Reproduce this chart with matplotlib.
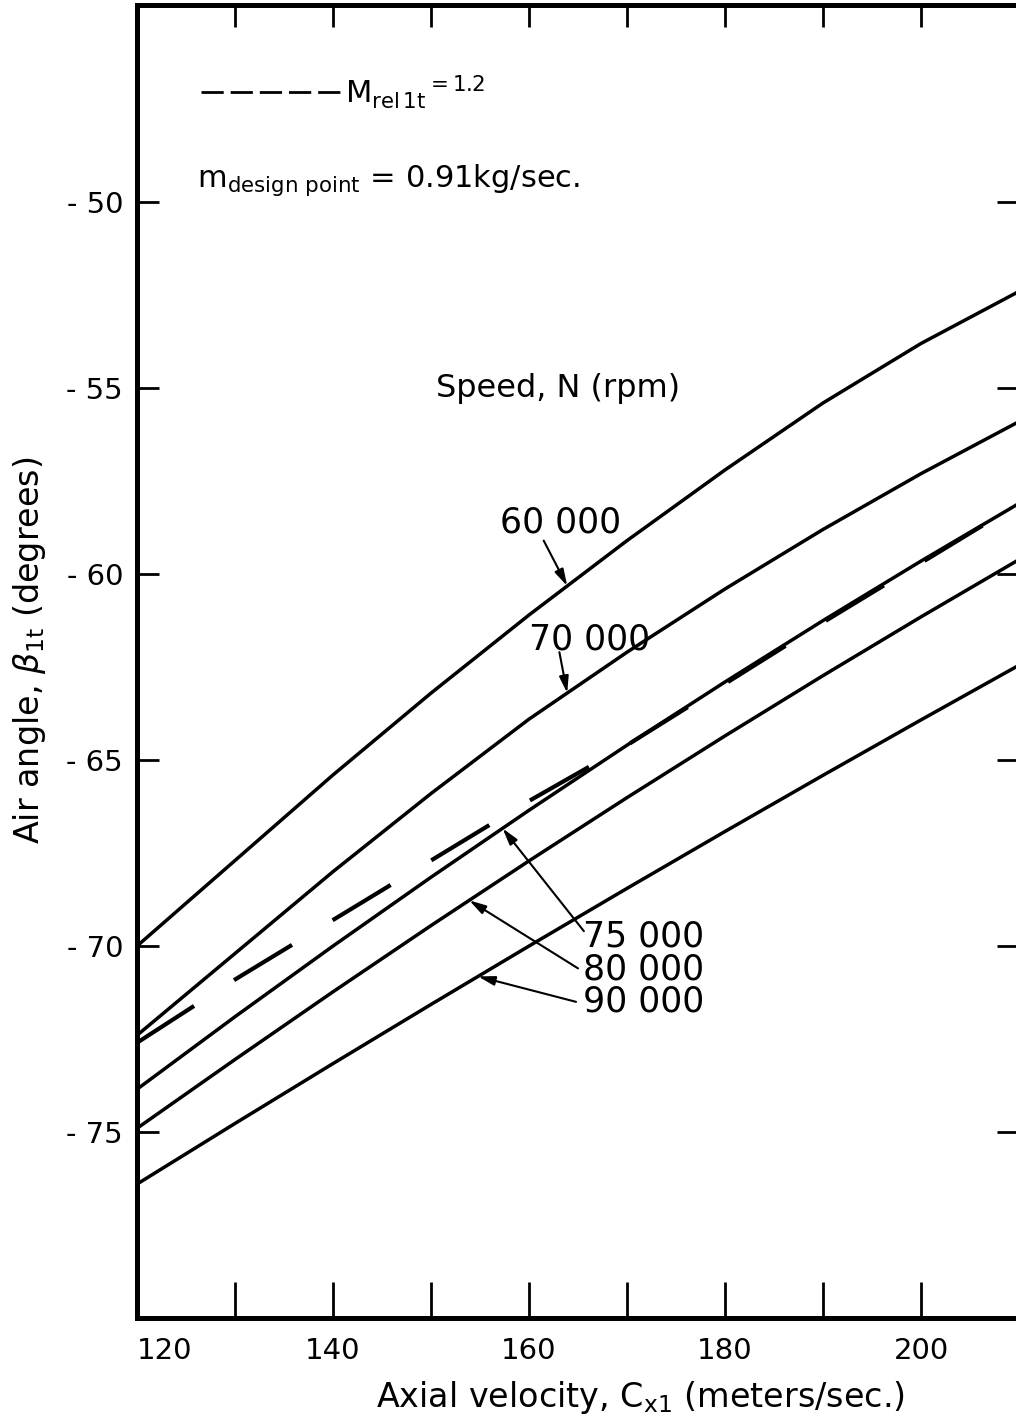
import numpy as np
import matplotlib.pyplot as plt

plt.rcParams['font.family'] = ['DejaVu Sans']
plt.rcParams['mathtext.fontset'] = 'dejavusans'

# axial velocity grid (m/s)
cx = [120, 130, 140, 150, 160, 170, 180, 190, 200, 210]

# air angle beta_1t (deg) per speed
beta_60k = [-70.0, -67.7, -65.4, -63.2, -61.1, -59.1, -57.2, -55.4, -53.8, -52.4]
beta_70k = [-72.4, -70.2, -68.0, -65.9, -63.9, -62.1, -60.4, -58.8, -57.3, -55.9]
beta_75k = [-73.85, -71.9, -70.0, -68.15, -66.35, -64.6, -62.9, -61.25, -59.65, -58.1]
beta_80k = [-74.9, -73.05, -71.23, -69.45, -67.71, -66.01, -64.35, -62.73, -61.15, -59.61]
beta_90k = [-76.4, -74.77, -73.16, -71.57, -70.0, -68.45, -66.92, -65.41, -63.92, -62.45]
# M_rel1t = 1.2 line
beta_m12 = [-72.6, -70.9, -69.3, -67.7, -66.1, -64.6, -62.95, -61.3, -59.7, -58.1]

speed_labels = ["60 000", "70 000", "75 000", "80 000", "90 000"]
xticks = [120, 130, 140, 150, 160, 170, 180, 190, 200, 210]
xticklabels = ["120", "", "140", "", "160", "", "180", "", "200", ""]
yticks = [-75, -70, -65, -60, -55, -50]
yticklabels = ["- 75", "- 70", "- 65", "- 60", "- 55", "- 50"]

W, H = 1016, 1422
fig = plt.figure(figsize=(W / 100, H / 100), dpi=100)
ax = fig.add_axes([137 / W, 1 - 1318 / H, 882 / W, 1313 / H])

LW = 2.5
for b in [beta_60k, beta_70k, beta_75k, beta_80k, beta_90k]:
    ax.plot(cx, b, color="black", lw=LW, solid_capstyle="butt")
ax.plot(cx, beta_m12, color="black", lw=3.0,
        linestyle=(0, (16.3, 11.4)), dash_capstyle="butt")

ax.set_xlim(120, 210)
ax.set_ylim(-80, -44.7)

for s in ax.spines.values():
    s.set_linewidth(3.6)

ax.set_xticks(xticks)
ax.set_xticklabels(xticklabels, fontsize=21)
ax.get_xticklabels()[0].set_horizontalalignment("left")
ax.set_yticks(yticks)
ax.set_yticklabels(yticklabels, fontsize=21)
ax.tick_params(axis="x", direction="in", length=26, width=2.0, pad=14)
ax.tick_params(axis="y", direction="in", length=16, width=2.0, pad=10,
               right=True)
top = ax.secondary_xaxis("top")
top.set_xticks(xticks)
top.tick_params(direction="in", length=16, width=2.0, labeltop=False)

# curve labels with arrows
arrow = dict(arrowstyle="-|>,head_length=1.0,head_width=0.28",
             color="black", lw=1.5, shrinkA=0, shrinkB=0)
ax.annotate("", xy=(163.9, np.interp(163.9, cx, beta_60k)),
            xytext=(161.5, -59.1), arrowprops=arrow)
ax.text(163.2, -58.6, speed_labels[0], fontsize=25, ha="center",
        va="center")
ax.annotate("", xy=(163.9, np.interp(163.9, cx, beta_70k)),
            xytext=(163.1, -62.1), arrowprops=arrow)
ax.text(166.2, -61.75, speed_labels[1], fontsize=25, ha="center",
        va="center")
ax.annotate("", xy=(157.3, np.interp(157.3, cx, beta_75k)),
            xytext=(165.6, -69.6), arrowprops=arrow)
ax.text(165.5, -69.75, speed_labels[2], fontsize=25, ha="left",
        va="center")
ax.annotate("", xy=(153.9, np.interp(153.9, cx, beta_80k)),
            xytext=(165.0, -70.6), arrowprops=arrow)
ax.text(165.5, -70.62, speed_labels[3], fontsize=25, ha="left",
        va="center")
ax.annotate("", xy=(154.8, np.interp(154.8, cx, beta_90k)),
            xytext=(164.8, -71.5), arrowprops=arrow)
ax.text(165.5, -71.5, speed_labels[4], fontsize=25, ha="left",
        va="center")

ax.text(163.0, -55.0, "Speed, N (rpm)", fontsize=23, ha="center",
        va="center")

# legend-like notes
ax.plot([126.5, 141.0], [-47.05, -47.05], color="black", lw=2.0,
        linestyle=(0, (8, 2.5)))
ax.text(141.2, -47.05, r"M$_\mathregular{rel\,1t}$$^\mathregular{=1.2}$",
        fontsize=22, ha="left", va="center")
ax.text(126.1, -49.4, r"m$_\mathregular{design\ point}$ = 0.91kg/sec.",
        fontsize=22, ha="left", va="center")

fig.text(640 / W, 1 - 1397 / H,
         r"Axial velocity, C$_\mathregular{x1}$ (meters/sec.)",
         fontsize=24, ha="center", va="center")
fig.text(30 / W, 1 - 650 / H,
         r"Air angle, $\beta_\mathregular{1t}$ (degrees)",
         fontsize=24, ha="center", va="center", rotation=90)

fig.savefig("out.png", dpi=100)
